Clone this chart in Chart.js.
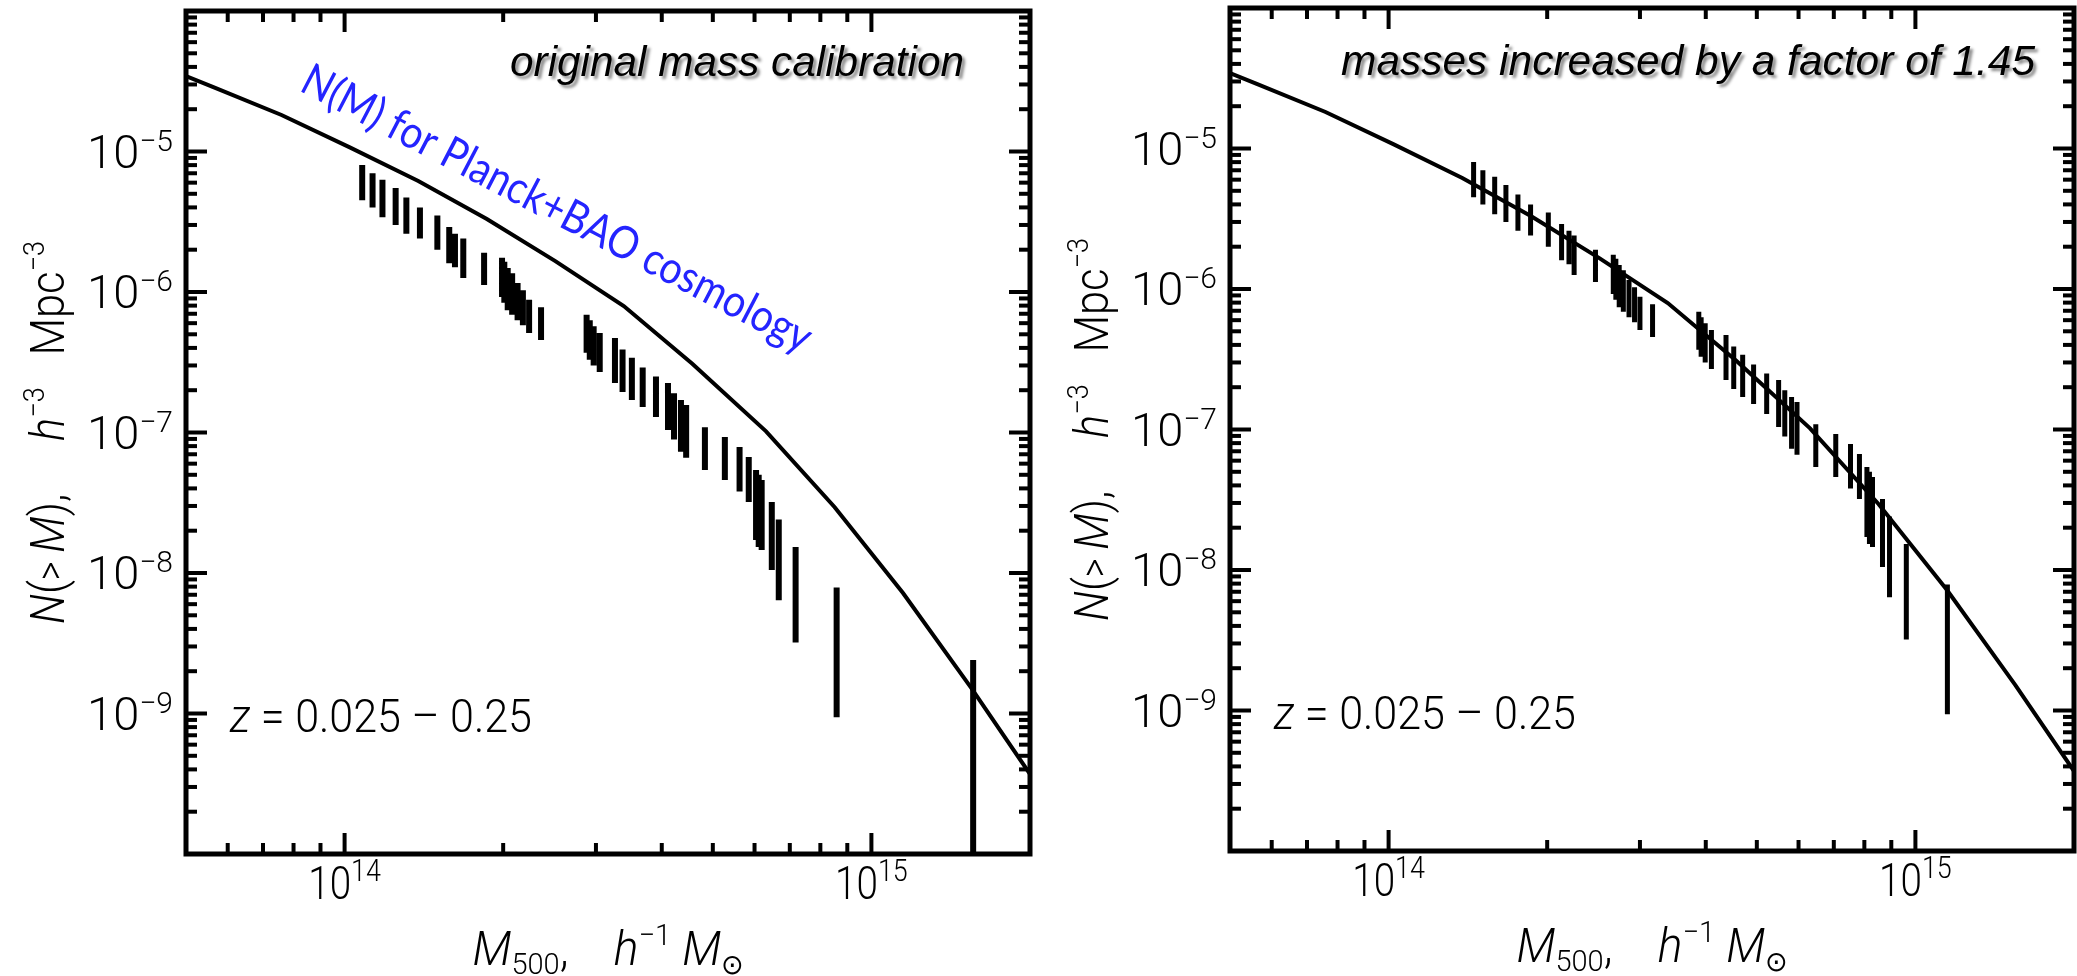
<!DOCTYPE html>
<html lang="en">
<head>
<meta charset="UTF-8">
<title>N(&gt;M)</title>
<script src="https://cdn.jsdelivr.net/npm/chart.js"></script>
<style>
  body { margin: 0; background: #fff; }
  #wrap { position: relative; width: 2077px; height: 976px; }
  canvas { position: absolute; top: 0; }
</style>
</head>
<body>
<div id="wrap">
  <canvas id="leftPanel" width="1040" height="976" style="left:0"></canvas>
  <canvas id="rightPanel" width="1037" height="976" style="left:1040px"></canvas>
</div>
<script>
// model N(>M) for Planck+BAO cosmology, tabulated every ~0.13 dex in mass
const modelMass = [5e13, 5.62e13, 7.59e13, 1.023e14, 1.38e14, 1.862e14, 2.512e14, 3.388e14,
  4.571e14, 6.31e14, 8.51e14, 1.148e15, 1.549e15, 2e15];
const modelN = [3.44e-5, 2.88e-5, 1.82e-5, 1.07e-5, 6.17e-6, 3.31e-6, 1.66e-6, 7.94e-7,
  3.09e-7, 1.02e-7, 2.95e-8, 7.2e-9, 1.51e-9, 3.7e-10];

// cluster masses (units of 1e14 h^-1 Msun), original calibration
const massOrig = [1.08, 1.13, 1.18, 1.25, 1.31, 1.39, 1.50, 1.58, 1.62, 1.68, 1.84,
  1.99, 2.01, 2.04, 2.08, 2.13, 2.18, 2.24, 2.36, 2.88, 2.92, 2.97, 3.05, 3.26, 3.37,
  3.51, 3.68, 3.90, 4.11, 4.22, 4.35, 4.45, 4.83, 5.27, 5.62, 5.85, 6.04, 6.11, 6.19,
  6.47, 6.67, 7.18, 8.59, 15.6];
// same clusters after the mass rescaling
const massScaled = [1.45, 1.51, 1.59, 1.67, 1.76, 1.86, 2.01, 2.13, 2.20, 2.25, 2.47,
  2.67, 2.70, 2.74, 2.79, 2.86, 2.93, 3.00, 3.17, 3.88, 3.92, 3.99, 4.10, 4.37, 4.52,
  4.70, 4.93, 5.22, 5.50, 5.65, 5.82, 5.96, 6.47, 7.06, 7.53, 7.83, 8.09, 8.18, 8.29,
  8.66, 8.93, 9.61, 11.5];
// error range of N(>M), h^3 Mpc^-3
const nHigh = [8.0e-6, 7.0e-6, 6.3e-6, 5.5e-6, 4.7e-6, 4.0e-6, 3.5e-6, 2.9e-6, 2.6e-6, 2.4e-6, 1.9e-6,
  1.75e-6, 1.64e-6, 1.48e-6, 1.36e-6, 1.16e-6, 1.03e-6, 8.8e-7, 7.8e-7, 6.9e-7, 6.3e-7, 5.7e-7, 5.1e-7,
  4.7e-7, 3.9e-7, 3.4e-7, 2.9e-7, 2.5e-7, 2.25e-7, 1.9e-7, 1.7e-7, 1.57e-7, 1.09e-7, 9.3e-8, 7.9e-8,
  6.7e-8, 5.4e-8, 5.0e-8, 4.6e-8, 3.2e-8, 2.4e-8, 1.53e-8, 7.9e-9, 2.4e-9];
const nLow = [4.5e-6, 4.0e-6, 3.4e-6, 3.0e-6, 2.6e-6, 2.4e-6, 2.0e-6, 1.6e-6, 1.5e-6, 1.26e-6, 1.12e-6,
  9.2e-7, 8.4e-7, 7.4e-7, 6.9e-7, 6.3e-7, 5.8e-7, 5.1e-7, 4.55e-7, 3.7e-7, 3.3e-7, 3.0e-7, 2.7e-7,
  2.25e-7, 1.94e-7, 1.7e-7, 1.52e-7, 1.29e-7, 1.04e-7, 8.9e-8, 7.3e-8, 6.6e-8, 5.4e-8, 4.6e-8, 3.8e-8,
  3.2e-8, 1.72e-8, 1.53e-8, 1.46e-8, 1.05e-8, 6.4e-9, 3.2e-9, 9.4e-10, 1e-11];

const xTickLabels = [14, 15];
const yTickLabels = [-5, -6, -7, -8, -9];

const FONT = 'Roboto, "DejaVu Sans", sans-serif';

// draw a run of text pieces: [text, size, italic, raise]
function rich(ctx, parts, x, y, align, sx, fitWidth) {
  let w = 0;
  const ws = parts.map(p => {
    ctx.font = (p[2] ? 'italic ' : '') + '300 ' + p[1] + 'px ' + FONT;
    const m = ctx.measureText(p[0]).width;
    w += m;
    return m;
  });
  if (fitWidth) sx = fitWidth / w;
  ctx.save();
  ctx.translate(x, y);
  ctx.scale(sx, 1);
  let cx = align === 'center' ? -w / 2 : align === 'right' ? -w : 0;
  parts.forEach((p, i) => {
    ctx.font = (p[2] ? 'italic ' : '') + '300 ' + p[1] + 'px ' + FONT;
    ctx.fillText(p[0], cx, -(p[3] || 0));
    cx += ws[i];
  });
  ctx.restore();
}

const frame = {
  id: 'frame',
  afterDatasetsDraw(chart, args, opts) {
    const { ctx, chartArea: a, scales: { x, y } } = chart;
    ctx.save();
    ctx.strokeStyle = '#000';
    ctx.fillStyle = '#000';
    const seg = (x1, y1, x2, y2) => { ctx.beginPath(); ctx.moveTo(x1, y1); ctx.lineTo(x2, y2); ctx.stroke(); };

    // inward ticks on all four sides
    ctx.lineWidth = 4;
    for (let d = 13; d <= 15; d++) {
      for (let m = 1; m <= 9; m++) {
        const v = m * Math.pow(10, d);
        if (v <= x.min * 1.001 || v >= x.max * 0.999) continue;
        const px = x.getPixelForValue(v), len = m === 1 ? 21 : 11;
        seg(px, a.bottom, px, a.bottom - len);
        seg(px, a.top, px, a.top + len);
      }
    }
    for (let d = -10; d <= -5; d++) {
      for (let m = 1; m <= 9; m++) {
        const v = m * Math.pow(10, d);
        if (v <= y.min * 1.001 || v >= y.max * 0.999) continue;
        const py = y.getPixelForValue(v), len = m === 1 ? 21 : 11;
        seg(a.left, py, a.left + len, py);
        seg(a.right, py, a.right - len, py);
      }
    }
    ctx.lineWidth = 5;
    ctx.lineJoin = 'miter';
    ctx.strokeRect(a.left, a.top, a.right - a.left, a.bottom - a.top);

    // tick labels
    ctx.textBaseline = 'alphabetic';
    xTickLabels.forEach(e => {
      const px = x.getPixelForValue(Math.pow(10, e));
      rich(ctx, [['10', 46], [String(e), 32, false, 18]], px, a.bottom + 45, 'center', 0.84);
    });
    yTickLabels.forEach(e => {
      const py = y.getPixelForValue(Math.pow(10, e));
      rich(ctx, [['10', 47], ['\u2212' + Math.abs(e), 30, false, 17]], a.left - 13, py + 16, 'right', 1.0);
    });

    // axis titles
    const cx = (a.left + a.right) / 2;
    rich(ctx, [['M', 48, true], ['500', 30, false, -9], [',', 48], ['    ', 48], ['h', 48, true],
      ['\u22121', 30, false, 20], [' ', 48], ['M', 48, true], ['\u2299', 28, false, -9]],
      cx, a.bottom + 111, 'center', 1, 271);
    ctx.save();
    ctx.translate(a.left - 122, (a.top + a.bottom) / 2);
    ctx.rotate(-Math.PI / 2);
    rich(ctx, [['N', 48, true], ['(', 48], ['> ', 40], ['M', 48, true], ['),', 48], ['     ', 48],
      ['h', 48, true], ['\u22123', 30, false, 20], ['   Mpc', 48], ['\u22123', 30, false, 20]],
      0, 0, 'center', 1, 383);
    ctx.restore();

    // redshift range
    rich(ctx, [['z', 46, true], [' = 0.025 \u2013 0.25', 46]], a.left + 44, a.top + 721, 'left', 1, 302);

    // panel caption with soft shadow
    ctx.save();
    ctx.font = 'italic 42px "Liberation Sans", Arial, sans-serif';
    const cw = ctx.measureText(opts.caption).width;
    ctx.translate(opts.capRight, opts.capBase);
    ctx.scale(opts.capWidth / cw, 1);
    ctx.shadowColor = 'rgba(0,0,0,0.45)';
    ctx.shadowOffsetX = 3;
    ctx.shadowOffsetY = 3;
    ctx.shadowBlur = 3;
    ctx.textAlign = 'right';
    ctx.fillText(opts.caption, 0, 0);
    ctx.restore();

    // model label along the curve
    if (opts.model) {
      ctx.save();
      ctx.font = '45px Lato, "Open Sans", sans-serif';
      const t = 'N(M) for Planck+BAO cosmology';
      const tw = ctx.measureText(t).width;
      ctx.translate(298, 90);
      ctx.rotate(27.6 * Math.PI / 180);
      ctx.scale(569 / tw, 1);
      ctx.fillStyle = '#2424ff';
      ctx.fillText(t, 0, 0);
      ctx.restore();
    }
    ctx.restore();
  }
};

function panel(id, mass, barWidth, pad, decor) {
  const bars = [];
  mass.forEach((m, i) => {
    bars.push({ x: m * 1e14, y: nHigh[i] }, { x: m * 1e14, y: nLow[i] }, { x: m * 1e14, y: null });
  });
  const curve = modelMass.map((m, i) => ({ x: m, y: modelN[i] }));
  return new Chart(document.getElementById(id), {
    type: 'line',
    data: {
      datasets: [
        { data: curve, borderColor: '#000', borderWidth: 4, pointRadius: 0, clip: 0 },
        { data: bars, borderColor: '#000', borderWidth: barWidth, pointRadius: 0, spanGaps: false, clip: 0 }
      ]
    },
    options: {
      responsive: false,
      animation: false,
      devicePixelRatio: 1,
      layout: { padding: pad },
      plugins: { legend: { display: false }, tooltip: { enabled: false }, frame: decor },
      scales: {
        x: { type: 'logarithmic', min: 5e13, max: 2e15, display: false },
        y: { type: 'logarithmic', min: 1e-10, max: 1e-4, display: false }
      }
    },
    plugins: [frame]
  });
}

panel('leftPanel', massOrig, 6, { left: 186, right: 10, top: 11, bottom: 122 },
  { caption: 'original mass calibration', capRight: 964, capBase: 76, capWidth: 454, model: true });
panel('rightPanel', massScaled, 5, { left: 190, right: 3, top: 8, bottom: 125 },
  { caption: 'masses increased by a factor of 1.45', capRight: 995, capBase: 75, capWidth: 694, model: false });
</script>
</body>
</html>
